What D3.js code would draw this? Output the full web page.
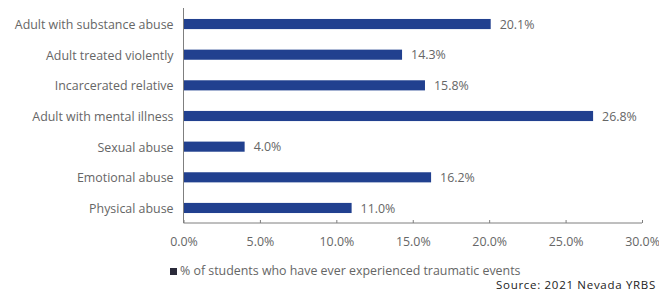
<!DOCTYPE html>
<html><head><meta charset="utf-8">
<script src="https://cdn.jsdelivr.net/npm/d3@7"></script>
<style>body{margin:0;background:#fff}svg{display:block}text{font-family:"Open Sans",sans-serif}</style>
</head><body><svg id="c" width="659" height="293"></svg>
<script>
const categories = ["Adult with substance abuse","Adult treated violently","Incarcerated relative","Adult with mental illness","Sexual abuse","Emotional abuse","Physical abuse"];
const values = [20.1,14.3,15.8,26.8,4.0,16.2,11.0];
const tickValues = [0,5,10,15,20,25,30];
const legendLabel = "% of students who have ever experienced traumatic events";
const sourceLabel = "Source: 2021 Nevada YRBS";

const svg = d3.select("#c");
const x = d3.scaleLinear().domain([0,30]).range([183.5,642]);
const y = d3.scaleBand().domain(categories).range([8.7,223.3]).paddingInner(0.67).paddingOuter(0.335);
const barColor = "#21408f", textColor = "#666666", axisColor = "#7f7f7f";
const fs = 12.4;

svg.selectAll("rect.bar").data(values).join("rect").attr("class","bar")
  .attr("x",x(0)).attr("y",(d,i)=>y(categories[i]))
  .attr("width",d=>x(d)-x(0)).attr("height",y.bandwidth()).attr("fill",barColor);

svg.selectAll("text.val").data(values).join("text").attr("class","val")
  .attr("x",d=>x(d)+9).attr("y",(d,i)=>y(categories[i])+y.bandwidth()/2)
  .attr("dy","0.38em").attr("font-size",fs).attr("fill",textColor)
  .text(d=>d.toFixed(1)+"%");

svg.selectAll("text.cat").data(categories).join("text").attr("class","cat")
  .attr("x",x(0)-10).attr("y",d=>y(d)+y.bandwidth()/2).attr("dy","0.4em")
  .attr("text-anchor","end").attr("font-size",fs).attr("fill",textColor).text(d=>d);

// axes
const xAxis = d3.axisBottom(x).tickValues(tickValues).tickSize(-3).tickPadding(14).tickFormat(d=>d.toFixed(1)+"%");
const gx = svg.append("g").attr("transform","translate(0,223)").call(xAxis);
gx.select(".domain").attr("stroke",axisColor).attr("d",`M${x(0)},0H${x(30)}`);
gx.selectAll(".tick line").attr("stroke",axisColor);
gx.selectAll(".tick text").attr("font-size",fs).attr("fill",textColor).attr("font-family","Open Sans, sans-serif");
svg.append("line").attr("x1",x(0)).attr("x2",x(0)).attr("y1",8).attr("y2",223).attr("stroke",axisColor);

// legend
svg.append("rect").attr("x",170).attr("y",268).attr("width",7).attr("height",7).attr("fill","#2a2a3a");
svg.append("text").attr("x",180).attr("y",275).attr("font-size",fs).attr("fill",textColor).text(legendLabel);
svg.append("text").attr("x",656).attr("y",289).attr("text-anchor","end").attr("font-size",11.5)
  .attr("letter-spacing",0.7).attr("fill","#222").text(sourceLabel);
</script></body></html>
